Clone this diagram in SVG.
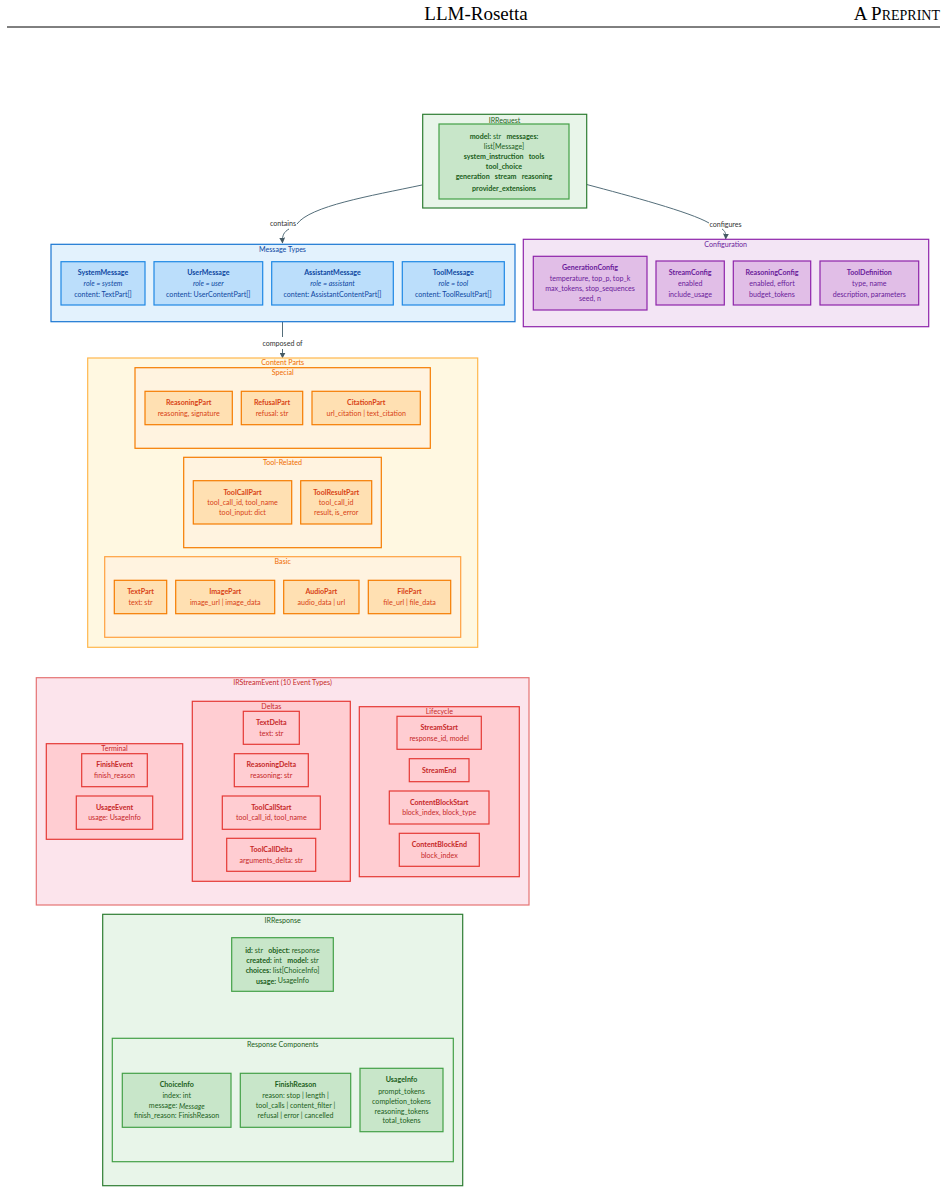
<svg xmlns="http://www.w3.org/2000/svg" width="948" height="1193" viewBox="0 0 948 1193">
<defs>
<marker id="arr" viewBox="0 0 10 10" refX="9" refY="5" markerWidth="6" markerHeight="6" orient="auto-start-reverse" markerUnits="userSpaceOnUse"><path d="M0,0 L10,5 L0,10 z" fill="#455a64"/></marker>
<style>
text{font-family:Lato,"Open Sans","Liberation Sans",sans-serif;font-size:7.1px;text-anchor:middle;dominant-baseline:central}
.b{font-weight:bold}
.i{font-style:italic}
.hdr{font-family:"Liberation Serif",serif;dominant-baseline:auto;fill:#000}
.conn{fill:none;stroke:#546e7a;stroke-width:1}
.lbl{fill:#333}
.blueO{fill:#e3f2fd;stroke:#1976d2;stroke-width:1.2}
.blueN{fill:#bbdefb;stroke:#1e88e5;stroke-width:1.2}
.blueT{fill:#0d47a1}
.purO{fill:#f3e5f5;stroke:#8e24aa;stroke-width:1.2}
.purN{fill:#e1bee7;stroke:#8e24aa;stroke-width:1.2}
.purT{fill:#6a1b9a}
.orO{fill:#fff8e1;stroke:#ffb74d;stroke-width:1.2}
.orS{fill:#fff3e0;stroke:#f57c00;stroke-width:1.2}
.orN{fill:#ffe0b2;stroke:#f57c00;stroke-width:1.2}
.orT{fill:#d84315}
.orL{fill:#ef6c00}
.rdO{fill:#fce4ec;stroke:#e53935;stroke-width:1.2}
.rdN{fill:#ffcdd2;stroke:#e53935;stroke-width:1.2}
.rdT{fill:#c62828}
.grO{fill:#e8f5e9;stroke:#2e7d32;stroke-width:1.2}
.grS{fill:#e8f5e9;stroke:#43a047;stroke-width:1.2}
.grN{fill:#c8e6c9;stroke:#43a047;stroke-width:1.2}
.grT{fill:#1b5e20}
</style>
</defs>
<rect width="948" height="1193" fill="#ffffff"/>

<g id="header">
<text class="hdr" x="476" y="20" style="font-size:19px">LLM-Rosetta</text>
<text class="hdr" x="940" y="20" style="font-size:19px;text-anchor:end">A P<tspan style="font-size:14px">REPRINT</tspan></text>
<line x1="7" y1="27" x2="940" y2="27" stroke="#000" stroke-width="1"/>
</g>

<g id="connectors">
<path class="conn" d="M422,185 C370,196 310,206 297,224"/>
<text class="lbl" x="283" y="223.5">contains</text>
<path class="conn" d="M289,229 C284,232 282,235 282.5,243" marker-end="url(#arr)"/>
<path class="conn" d="M586.7,184.5 C630,196 690,212 709,223"/>
<text class="lbl" x="725.5" y="224">configures</text>
<path class="conn" d="M722,229 C725,231 726,233 725.7,239" marker-end="url(#arr)"/>
<line class="conn" x1="282.5" y1="321.7" x2="282.5" y2="337"/>
<text class="lbl" x="282.5" y="343.3">composed of</text>
<line class="conn" x1="282.5" y1="349" x2="282.5" y2="358" marker-end="url(#arr)"/>
<line class="conn" x1="282.7" y1="991.3" x2="282.7" y2="1038.3"/>
</g>

<g id="IRRequest">
<rect class="grO" x="422.7" y="114.3" width="164" height="93.7"/>
<text class="grT" x="504.5" y="120">IRRequest</text>
<rect class="grN" x="439" y="124" width="130" height="75"/>
<text class="grT" x="504" y="136"><tspan class="b">model:</tspan> str&#160;&#160;&#160;<tspan class="b">messages:</tspan></text>
<text class="grT" x="504" y="146">list[Message]</text>
<text class="grT b" x="504" y="156.5">system_instruction&#160;&#160;&#160;tools</text>
<text class="grT b" x="504" y="166.5">tool_choice</text>
<text class="grT b" x="504" y="176.5">generation&#160;&#160;&#160;stream&#160;&#160;&#160;reasoning</text>
<text class="grT b" x="504" y="188">provider_extensions</text>
</g>

<g id="MessageTypes">
<rect class="blueO" x="51" y="244.3" width="464" height="77.4"/>
<text class="blueT" x="282.5" y="249.7">Message Types</text>
</g>
<g id="SystemMessage">
<rect class="blueN" x="61" y="261.7" width="84" height="43.3"/>
<text class="blueT b" x="103" y="272.7">SystemMessage</text>
<text class="blueT i" x="103" y="283.7">role = system</text>
<text class="blueT" x="103" y="294.3">content: TextPart[]</text>
</g>
<g id="UserMessage">
<rect class="blueN" x="154" y="261.7" width="108.7" height="43.3"/>
<text class="blueT b" x="208.3" y="272.7">UserMessage</text>
<text class="blueT i" x="208.3" y="283.7">role = user</text>
<text class="blueT" x="208.3" y="294.3">content: UserContentPart[]</text>
</g>
<g id="AssistantMessage">
<rect class="blueN" x="271.7" y="261.7" width="121.6" height="43.3"/>
<text class="blueT b" x="332.5" y="272.7">AssistantMessage</text>
<text class="blueT i" x="332.5" y="283.7">role = assistant</text>
<text class="blueT" x="332.5" y="294.3">content: AssistantContentPart[]</text>
</g>
<g id="ToolMessage">
<rect class="blueN" x="402.3" y="261.7" width="102" height="43.3"/>
<text class="blueT b" x="453.3" y="272.7">ToolMessage</text>
<text class="blueT i" x="453.3" y="283.7">role = tool</text>
<text class="blueT" x="453.3" y="294.3">content: ToolResultPart[]</text>
</g>

<g id="Configuration">
<rect class="purO" x="523.3" y="239.3" width="405.4" height="87.4"/>
<text class="purT" x="725.7" y="244.5">Configuration</text>
</g>
<g id="GenerationConfig">
<rect class="purN" x="533.3" y="256.3" width="113.7" height="53.7"/>
<text class="purT b" x="590" y="267.7">GenerationConfig</text>
<text class="purT" x="590" y="278.3">temperature, top_p, top_k</text>
<text class="purT" x="590" y="288.3">max_tokens, stop_sequences</text>
<text class="purT" x="590" y="298.3">seed, n</text>
</g>
<g id="StreamConfig">
<rect class="purN" x="656" y="261" width="68.3" height="44"/>
<text class="purT b" x="690.2" y="272.7">StreamConfig</text>
<text class="purT" x="690.2" y="283.7">enabled</text>
<text class="purT" x="690.2" y="294">include_usage</text>
</g>
<g id="ReasoningConfig">
<rect class="purN" x="733.3" y="261" width="77.4" height="44"/>
<text class="purT b" x="772" y="272.7">ReasoningConfig</text>
<text class="purT" x="772" y="283.7">enabled, effort</text>
<text class="purT" x="772" y="294">budget_tokens</text>
</g>
<g id="ToolDefinition">
<rect class="purN" x="820" y="261" width="98.7" height="44"/>
<text class="purT b" x="869.3" y="272.7">ToolDefinition</text>
<text class="purT" x="869.3" y="283.7">type, name</text>
<text class="purT" x="869.3" y="294">description, parameters</text>
</g>

<g id="ContentParts">
<rect class="orO" x="87.7" y="358" width="390" height="289.3"/>
<text class="orL" x="282.7" y="362.7">Content Parts</text>
</g>
<g id="Special">
<rect class="orS" x="135" y="367.7" width="295.3" height="80.6"/>
<text class="orL" x="282.7" y="372.7">Special</text>
</g>
<g id="ReasoningPart">
<rect class="orN" x="145" y="391.3" width="87.3" height="33.4"/>
<text class="orT b" x="188.7" y="402.7">ReasoningPart</text>
<text class="orT" x="188.7" y="413.7">reasoning, signature</text>
</g>
<g id="RefusalPart">
<rect class="orN" x="241.3" y="391.3" width="61.4" height="33.4"/>
<text class="orT b" x="272" y="402.7">RefusalPart</text>
<text class="orT" x="272" y="413.7">refusal: str</text>
</g>
<g id="CitationPart">
<rect class="orN" x="312" y="391.3" width="108.3" height="33.4"/>
<text class="orT b" x="366.2" y="402.7">CitationPart</text>
<text class="orT" x="366.2" y="413.7">url_citation | text_citation</text>
</g>
<g id="ToolRelated">
<rect class="orS" x="183.7" y="457.3" width="197.6" height="90.4"/>
<text class="orL" x="282.5" y="462.7">Tool-Related</text>
</g>
<g id="ToolCallPart">
<rect class="orN" x="193.3" y="480.7" width="98.4" height="43.3"/>
<text class="orT b" x="242.5" y="492.7">ToolCallPart</text>
<text class="orT" x="242.5" y="502.7">tool_call_id, tool_name</text>
<text class="orT" x="242.5" y="512.7">tool_input: dict</text>
</g>
<g id="ToolResultPart">
<rect class="orN" x="300.7" y="480.7" width="71" height="43.3"/>
<text class="orT b" x="336.2" y="492.7">ToolResultPart</text>
<text class="orT" x="336.2" y="502.7">tool_call_id</text>
<text class="orT" x="336.2" y="512.7">result, is_error</text>
</g>
<g id="Basic">
<rect class="orS" x="104.7" y="556.7" width="356" height="80.6" style="stroke:#ffa040"/>
<text class="orL" x="282.7" y="561.7">Basic</text>
</g>
<g id="TextPart">
<rect class="orN" x="114.3" y="580.3" width="52.4" height="33.4"/>
<text class="orT b" x="140.5" y="591.3">TextPart</text>
<text class="orT" x="140.5" y="602.7">text: str</text>
</g>
<g id="ImagePart">
<rect class="orN" x="175.7" y="580.3" width="99" height="33.4"/>
<text class="orT b" x="225.2" y="591.3">ImagePart</text>
<text class="orT" x="225.2" y="602.7">image_url | image_data</text>
</g>
<g id="AudioPart">
<rect class="orN" x="283.7" y="580.3" width="75.3" height="33.4"/>
<text class="orT b" x="321.3" y="591.3">AudioPart</text>
<text class="orT" x="321.3" y="602.7">audio_data | url</text>
</g>
<g id="FilePart">
<rect class="orN" x="368.3" y="580.3" width="82.4" height="33.4"/>
<text class="orT b" x="409.5" y="591.3">FilePart</text>
<text class="orT" x="409.5" y="602.7">file_url | file_data</text>
</g>

<g id="IRStreamEvent">
<rect class="rdO" x="36.3" y="677.7" width="492.7" height="227.3" style="stroke:#e57373"/>
<text class="rdT" x="282.5" y="682.5">IRStreamEvent (10 Event Types)</text>
</g>
<g id="Terminal">
<rect class="rdN" x="46.3" y="743.7" width="136.4" height="95.6"/>
<text class="rdT" x="114.5" y="748.3">Terminal</text>
</g>
<g id="FinishEvent">
<rect class="rdN" x="81.7" y="753.7" width="65.6" height="33"/>
<text class="rdT b" x="114.5" y="764.3">FinishEvent</text>
<text class="rdT" x="114.5" y="775.3">finish_reason</text>
</g>
<g id="UsageEvent">
<rect class="rdN" x="76.3" y="796" width="76.4" height="33.3"/>
<text class="rdT b" x="114.5" y="807.3">UsageEvent</text>
<text class="rdT" x="114.5" y="817.7">usage: UsageInfo</text>
</g>
<g id="Deltas">
<rect class="rdN" x="192.3" y="701.3" width="158" height="180"/>
<text class="rdT" x="271.3" y="706.3">Deltas</text>
</g>
<g id="TextDelta">
<rect class="rdN" x="243.3" y="711.3" width="56" height="33"/>
<text class="rdT b" x="271.3" y="722.3">TextDelta</text>
<text class="rdT" x="271.3" y="733.7">text: str</text>
</g>
<g id="ReasoningDelta">
<rect class="rdN" x="234.3" y="753.7" width="74" height="33"/>
<text class="rdT b" x="271.3" y="764.3">ReasoningDelta</text>
<text class="rdT" x="271.3" y="775.3">reasoning: str</text>
</g>
<g id="ToolCallStart">
<rect class="rdN" x="222.3" y="796" width="98" height="33.3"/>
<text class="rdT b" x="271.3" y="807.3">ToolCallStart</text>
<text class="rdT" x="271.3" y="817.7">tool_call_id, tool_name</text>
</g>
<g id="ToolCallDelta">
<rect class="rdN" x="226.7" y="838.3" width="89" height="33"/>
<text class="rdT b" x="271.2" y="849.7">ToolCallDelta</text>
<text class="rdT" x="271.2" y="860.3">arguments_delta: str</text>
</g>
<g id="Lifecycle">
<rect class="rdN" x="359.3" y="706.7" width="160" height="170"/>
<text class="rdT" x="439.3" y="711.7">Lifecycle</text>
</g>
<g id="StreamStart">
<rect class="rdN" x="397" y="716.3" width="84.3" height="33"/>
<text class="rdT b" x="439.2" y="727.7">StreamStart</text>
<text class="rdT" x="439.2" y="738.7">response_id, model</text>
</g>
<g id="StreamEnd">
<rect class="rdN" x="409.3" y="758.7" width="59.7" height="23"/>
<text class="rdT b" x="439.2" y="770.3">StreamEnd</text>
</g>
<g id="ContentBlockStart">
<rect class="rdN" x="389.3" y="791" width="99.7" height="33"/>
<text class="rdT b" x="439.2" y="802.7">ContentBlockStart</text>
<text class="rdT" x="439.2" y="812.7">block_index, block_type</text>
</g>
<g id="ContentBlockEnd">
<rect class="rdN" x="399.3" y="833.3" width="80" height="33"/>
<text class="rdT b" x="439.3" y="844.7">ContentBlockEnd</text>
<text class="rdT" x="439.3" y="855.7">block_index</text>
</g>

<g id="IRResponse">
<rect class="grO" x="102.7" y="914.3" width="360" height="271.4"/>
<text class="grT" x="282.7" y="920">IRResponse</text>
</g>
<g id="IRResponseFields">
<rect class="grN" x="231.7" y="937.7" width="101.6" height="53.6"/>
<text class="grT" x="282.5" y="950"><tspan class="b">id:</tspan> str&#160;&#160;&#160;<tspan class="b">object:</tspan> response</text>
<text class="grT" x="282.5" y="960"><tspan class="b">created:</tspan> int&#160;&#160;&#160;<tspan class="b">model:</tspan> str</text>
<text class="grT" x="282.5" y="970"><tspan class="b">choices:</tspan> list[ChoiceInfo]</text>
<text class="grT" x="282.5" y="980.7"><tspan class="b">usage:</tspan> UsageInfo</text>
</g>
<g id="ResponseComponents">
<rect class="grS" x="112.3" y="1038.3" width="341" height="123.4"/>
<text class="grT" x="282.7" y="1044.3">Response Components</text>
</g>
<g id="ChoiceInfo">
<rect class="grN" x="122.3" y="1073.3" width="108.7" height="54"/>
<text class="grT b" x="176.7" y="1084.3">ChoiceInfo</text>
<text class="grT" x="176.7" y="1095.7">index: int</text>
<text class="grT" x="176.7" y="1105.7">message: <tspan class="i">Message</tspan></text>
<text class="grT" x="176.7" y="1115.7">finish_reason: FinishReason</text>
</g>
<g id="FinishReason">
<rect class="grN" x="240.3" y="1073.3" width="110.4" height="54"/>
<text class="grT b" x="295.5" y="1084.3">FinishReason</text>
<text class="grT" x="295.5" y="1095.7">reason: stop | length |</text>
<text class="grT" x="295.5" y="1105.7">tool_calls | content_filter |</text>
<text class="grT" x="295.5" y="1115.7">refusal | error | cancelled</text>
</g>
<g id="UsageInfo">
<rect class="grN" x="360" y="1068.3" width="83" height="63.4"/>
<text class="grT b" x="401.5" y="1079.7">UsageInfo</text>
<text class="grT" x="401.5" y="1091">prompt_tokens</text>
<text class="grT" x="401.5" y="1101">completion_tokens</text>
<text class="grT" x="401.5" y="1111">reasoning_tokens</text>
<text class="grT" x="401.5" y="1120.3">total_tokens</text>
</g>
</svg>
